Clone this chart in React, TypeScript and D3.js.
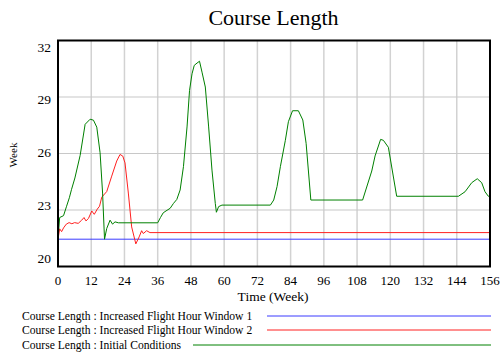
import * as d3 from "d3";

// weeks / values, one pair of arrays per run
const window1Weeks = [0, 156];
const window1Values = [21.45, 21.45];

const window2Weeks = [
  0, 0.6, 1.3, 2, 3, 4, 5, 6, 7.3, 8.5, 9.4, 10.1, 11, 12.2, 13.1, 14.2, 15, 15.8,
  17.6, 19.4, 21.2, 22.4, 23.4, 24.2, 25.4, 26.6, 28.1, 29.3, 30.2, 30.8, 32, 33.2, 156,
];
const window2Values = [
  21.45, 22.0, 21.85, 22.05, 22.25, 22.33, 22.27, 22.33, 22.29, 22.45, 22.6, 22.42, 22.55, 22.95, 22.77, 23.05, 23.2, 23.68,
  23.98, 24.8, 25.6, 25.95, 25.86, 25.5, 23.9, 22.1, 21.2, 21.57, 21.9, 21.75, 21.9, 21.8, 21.8,
];

const initialWeeks = [
  0, 0.6, 2, 3.1, 4.1, 4.9, 6.1, 8, 9.8, 11.6, 12.8, 14.0, 15.2, 16.1, 16.8, 17.6, 18.8, 19.7, 20.6, 21.8,
  36, 37, 38, 39, 40.5, 41.7, 42.9, 44.1, 45.3, 46.6, 47.5, 48.4, 49.2, 50.2, 51.1, 52.0, 53.2, 54.4, 55.6,
  56.8, 57.2, 58, 59.2, 76.7, 77.9, 79.1, 80.3, 82.1, 83.2, 84.7, 86.8, 88.4, 89.6, 91.3, 110, 113.3, 114.5,
  116.5, 117.5, 119.3, 122.3, 144.6, 147, 149.4, 151.4, 153, 154.2, 155.4, 156,
];
const initialValues = [
  21.45, 22.6, 22.7, 23.2, 23.65, 24.1, 24.7, 25.9, 27.55, 27.82, 27.77, 27.4, 26.04, 23.9, 21.45, 22.02, 22.46, 22.25, 22.37, 22.32,
  22.32, 22.6, 22.85, 22.95, 23.09, 23.35, 23.56, 24.06, 25.3, 27.41, 29.35, 30.23, 30.68, 30.8, 30.9, 30.32, 29.53, 27.41, 25.12,
  23.35, 22.88, 23.18, 23.26, 23.26, 23.53, 24.24, 25.3, 26.7, 27.69, 28.27, 28.27, 27.78, 26.54, 23.53, 23.53, 25.07, 25.87,
  26.75, 26.7, 26.33, 23.73, 23.73, 23.97, 24.45, 24.66, 24.45, 23.97, 23.73, 23.73,
];

const xTicks = [0, 12, 24, 36, 48, 60, 72, 84, 96, 108, 120, 132, 144, 156];
const yTicks = [20, 23, 26, 29, 32];

const seriesNames = [
  "Course Length : Increased Flight Hour Window 1",
  "Course Length : Increased Flight Hour Window 2",
  "Course Length : Initial Conditions",
];
const seriesColors = ["#3a3aff", "#ff2020", "#008000"];

const FONT = "Liberation Serif, Times New Roman, serif";

export default function App() {
  const width = 503;
  const height = 352;
  const margin = { top: 40.5, right: 13, bottom: 85.5, left: 58 };
  const plotRight = width - margin.right;
  const plotBottom = height - margin.bottom;

  const x = d3.scaleLinear().domain([0, 156]).range([margin.left, plotRight]);
  const y = d3.scaleLinear().domain([20, 32]).range([plotBottom, margin.top]);
  // Vensim squeezes the tick labels a little inside the frame
  const yLabel = d3.scaleLinear().domain([20, 32]).range([258, 47]);

  const line = d3
    .line<[number, number]>()
    .x((d) => x(d[0]))
    .y((d) => y(d[1]));

  const series = [
    d3.zip(window1Weeks, window1Values) as [number, number][],
    d3.zip(window2Weeks, window2Values) as [number, number][],
    d3.zip(initialWeeks, initialValues) as [number, number][],
  ];

  const legendRows = [316, 330, 345];
  const legendStarts = [267, 267, 193];
  const txt = { fontFamily: FONT };

  return (
    <svg
      width={width}
      height={height}
      style={{ position: "absolute", left: 0, top: 0, background: "#fff", fontFamily: FONT }}
    >
      <text x={273.5} y={25} textAnchor="middle" fontSize={22} style={txt}>
        Course Length
      </text>

      {/* grid */}
      {xTicks.slice(1, -1).map((t) => (
        <line key={"gx" + t} x1={x(t)} x2={x(t)} y1={margin.top} y2={plotBottom} stroke="#d2d2d2" strokeWidth={1.5} />
      ))}
      {yTicks.slice(1, -1).map((t) => (
        <line key={"gy" + t} x1={margin.left} x2={plotRight} y1={y(t)} y2={y(t)} stroke="#c8c8c8" strokeWidth={1.2} />
      ))}

      {series.map((s, i) => (
        <path key={i} d={line(s) ?? ""} fill="none" stroke={seriesColors[i]} strokeWidth={1} />
      ))}

      <rect
        x={margin.left}
        y={margin.top}
        width={plotRight - margin.left}
        height={plotBottom - margin.top}
        fill="none"
        stroke="#000"
        strokeWidth={2}
      />

      {/* y ticks */}
      {yTicks.map((t) => (
        <text key={"yt" + t} x={51} y={yLabel(t)} dy="0.35em" textAnchor="end" fontSize={13.5} style={txt}>
          {t}
        </text>
      ))}
      <text transform="translate(17,155) rotate(-90)" textAnchor="middle" fontSize={11} style={txt}>
        Week
      </text>

      {/* x ticks */}
      {xTicks.map((t) => (
        <text key={"xt" + t} x={x(t)} y={285} textAnchor="middle" fontSize={13} style={txt}>
          {t}
        </text>
      ))}
      <text x={273} y={301} textAnchor="middle" fontSize={13.5} style={txt}>
        Time (Week)
      </text>

      {/* legend */}
      {seriesNames.map((name, i) => (
        <g key={name}>
          <text x={22} y={legendRows[i]} dy="0.35em" fontSize={11.6} style={txt}>
            {name}
          </text>
          <line
            x1={legendStarts[i]}
            x2={491}
            y1={legendRows[i]}
            y2={legendRows[i]}
            stroke={seriesColors[i]}
            strokeWidth={1}
          />
        </g>
      ))}
    </svg>
  );
}
